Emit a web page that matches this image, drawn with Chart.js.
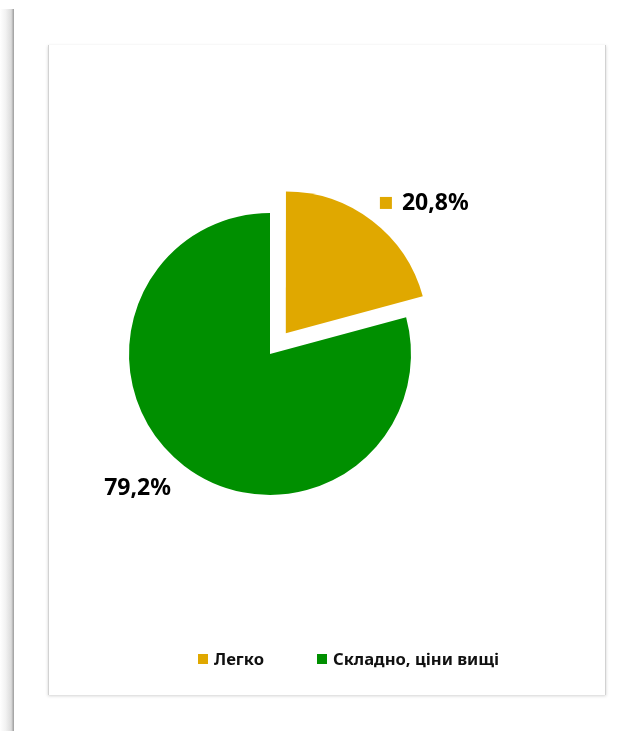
<!DOCTYPE html>
<html lang="uk">
<head>
<meta charset="utf-8">
<title>Легко / Складно, ціни вищі</title>
<script src="https://cdn.jsdelivr.net/npm/chart.js@4.4.1/dist/chart.umd.min.js"></script>
<style>
  body { margin: 0; background: #fff; width: 627px; height: 731px; overflow: hidden; position: relative; font-family: "Noto Sans", sans-serif; }
  .pageEdge {
    position: absolute; left: 0; top: 9px; width: 14px; height: 722px;
    background: linear-gradient(to right, #ffffff 0%, #f2f2f2 40%, #dcdcdc 80%, #b4b4b4 92%, #9c9c9c 100%);
  }
  .card {
    position: absolute; left: 48px; top: 45px; width: 556px; height: 650px;
    background: #fff;
    border-left: 1px solid #d2d2d2; border-right: 1px solid #d2d2d2;
    box-shadow: 0 1px 3px rgba(0, 0, 0, 0.18);
  }
  #myChart { position: absolute; left: 0; top: 0; }
  .legend {
    position: absolute; left: 198px; top: 647px;
    display: flex; align-items: center;
    font: bold 16.6px "Noto Sans", sans-serif; color: #111;
  }
  .legendItem { display: flex; align-items: center; margin-right: 53px; }
  .legendBox { width: 10px; height: 10px; margin-right: 6px; }
</style>
</head>
<body>
<div class="pageEdge"></div>
<div class="card"></div>
<canvas id="myChart" width="627" height="731"></canvas>
<div class="legend" id="legend"></div>

<script>
// Answers and their shares, percent
const categories = ['Легко', 'Складно, ціни вищі'];
const shares = [20.8, 79.2];
const shareLabels = ['20,8%', '79,2%'];
const sliceColors = ['#E0A800', '#008F00'];

// Value labels outside each slice, the first one carries its colour key
const valueLabels = {
  id: 'valueLabels',
  afterDatasetsDraw(chart) {
    const ctx = chart.ctx;
    const meta = chart.getDatasetMeta(0);
    ctx.save();
    ctx.font = 'bold 23px "Noto Sans", sans-serif';
    ctx.fillStyle = '#000';
    ctx.textBaseline = 'middle';
    meta.data.forEach((arc, i) => {
      const p = arc.getProps(['x', 'y', 'startAngle', 'endAngle', 'outerRadius'], true);
      const mid = (p.startAngle + p.endAngle) / 2;
      // arcs are drawn shifted by a quarter of their offset
      const shift = (arc.options.offset || 0) / 4;
      const dist = shift + p.outerRadius + 22;
      const x = p.x + Math.cos(mid) * dist;
      const y = p.y + Math.sin(mid) * dist;
      if (Math.cos(mid) >= 0) {
        // key square then text, growing to the right
        ctx.fillStyle = sliceColors[i];
        ctx.fillRect(x - 5, y - 7, 12, 12);
        ctx.fillStyle = '#000';
        ctx.textAlign = 'left';
        ctx.fillText(shareLabels[i], x + 17, y);
      } else {
        ctx.textAlign = 'right';
        ctx.fillText(shareLabels[i], x, y + 5);
      }
    });
    ctx.restore();
  }
};

const data = {
  labels: categories,
  datasets: [{
    data: shares,
    backgroundColor: sliceColors,
    borderWidth: 0,
    offset: [104, 0],
    hoverOffset: 0
  }]
};

const config = {
  type: 'pie',
  data,
  options: {
    responsive: false,
    animation: false,
    radius: 141,
    layout: { padding: { left: 0, top: 0, right: 87, bottom: 23 } },
    plugins: {
      legend: { display: false },
      tooltip: { enabled: false }
    }
  },
  plugins: [valueLabels]
};

const pieChart = new Chart(document.getElementById('myChart'), config);

// Legend under the chart
const legendBox = document.getElementById('legend');
categories.forEach((name, i) => {
  const item = document.createElement('div');
  item.className = 'legendItem';
  const box = document.createElement('span');
  box.className = 'legendBox';
  box.style.background = sliceColors[i];
  const text = document.createElement('span');
  text.textContent = name;
  item.appendChild(box);
  item.appendChild(text);
  legendBox.appendChild(item);
});
</script>
</body>
</html>
